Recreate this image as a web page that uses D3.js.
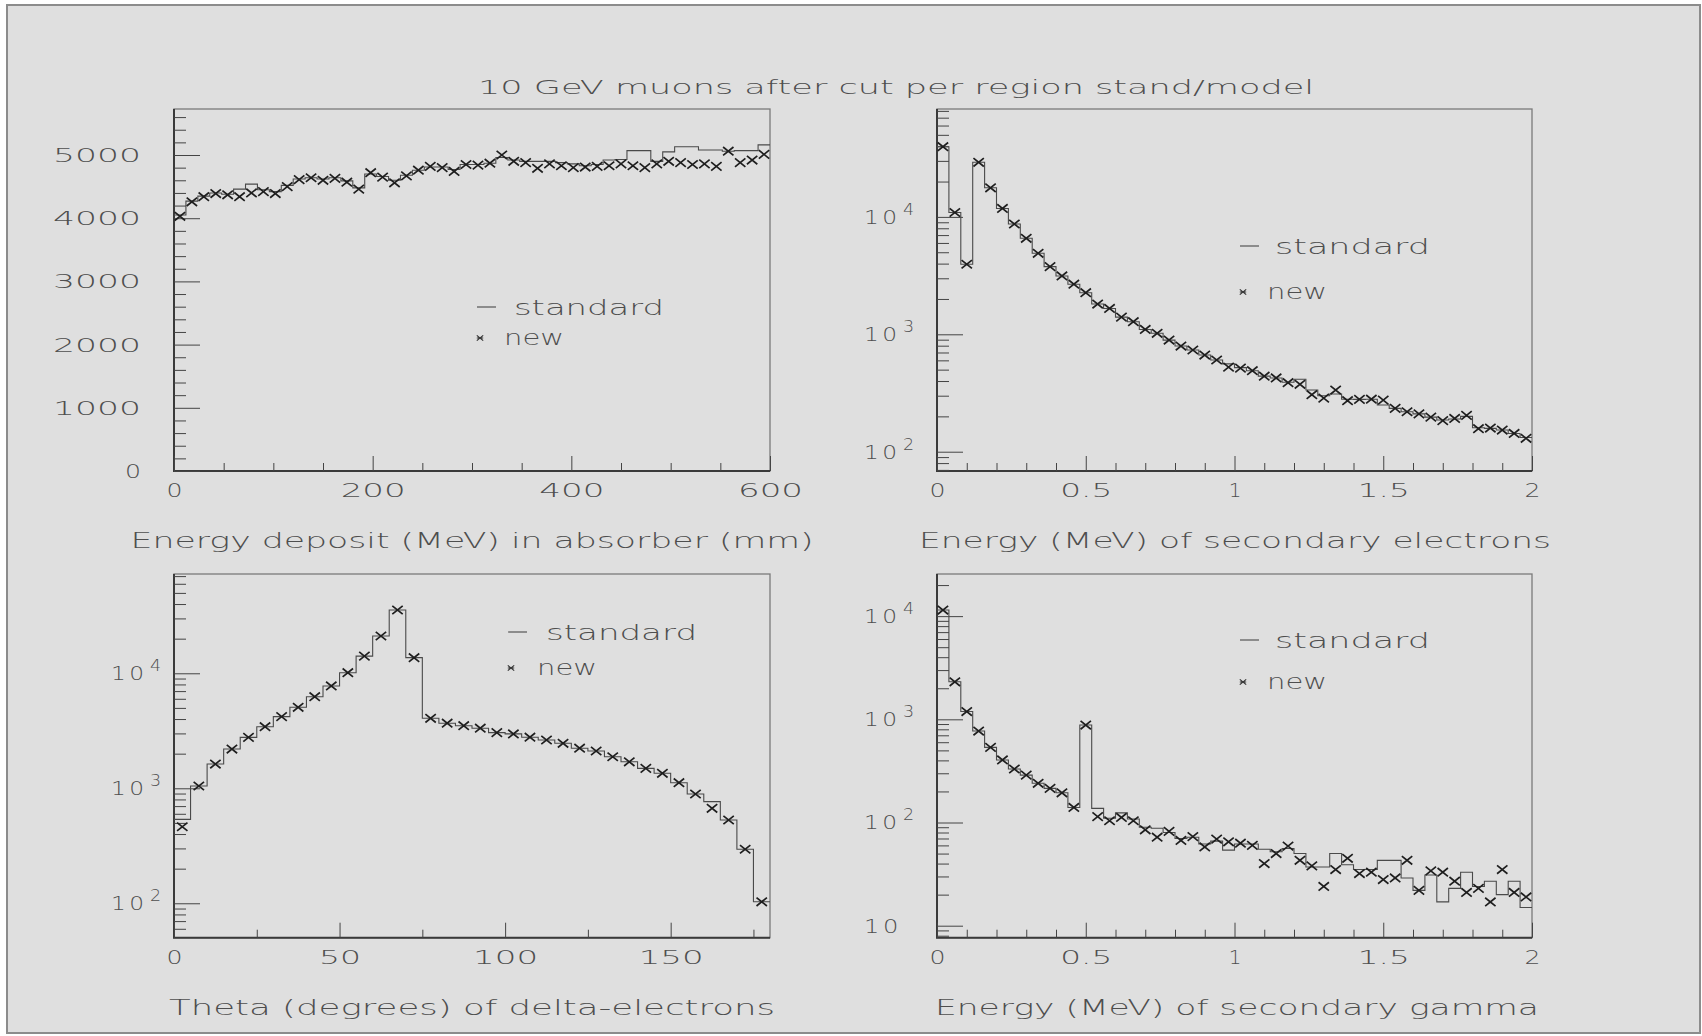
<!DOCTYPE html>
<html>
<head>
<meta charset="utf-8">
<script src="https://cdn.jsdelivr.net/npm/d3@7"></script>
<style>
  html, body { margin: 0; padding: 0; background: #ffffff; }
  svg text { font-family: "DejaVu Sans", "Liberation Sans", sans-serif; font-weight: 200; fill: #4e4e4e; }
</style>
</head>
<body>
<svg id="chart" width="1702" height="1036"></svg>
<script>
// ---- values ----
const pageTitle = "10 GeV muons after cut per region stand/model";
const seriesNames = ["standard", "new"];

// energy deposit, 50 bins over 0..600 mm
const depositStandard = [4050, 4270, 4350, 4400, 4380, 4460, 4540, 4450, 4420, 4520,
  4620, 4640, 4620, 4640, 4590, 4480, 4700, 4660, 4600, 4680,
  4760, 4810, 4810, 4770, 4850, 4850, 4870, 4960, 4920, 4900,
  4900, 4900, 4880, 4860, 4830, 4850, 4920, 4930, 5070, 5070,
  4900, 5050, 5130, 5130, 5080, 5080, 5060, 5070, 5070, 5160];
const depositNew = [4030, 4260, 4340, 4390, 4370, 4340, 4400, 4420, 4390, 4500,
  4610, 4640, 4600, 4630, 4570, 4460, 4720, 4650, 4560, 4670,
  4760, 4820, 4800, 4740, 4850, 4840, 4870, 5000, 4900, 4880,
  4790, 4860, 4830, 4800, 4810, 4820, 4830, 4860, 4830, 4800,
  4860, 4900, 4880, 4850, 4860, 4820, 5060, 4880, 4920, 5010];
const depositTicks = [0, 200, 400, 600];
const depositYTicks = [0, 1000, 2000, 3000, 4000, 5000];

// secondary electrons, 50 bins over 0..2 MeV
const electronStandard = [39600, 10900, 3950, 29200, 17700, 11800, 8700, 6570, 4900, 3770,
  3140, 2670, 2260, 1810, 1660, 1400, 1280, 1100, 1020, 893,
  794, 735, 666, 604, 560, 520, 490, 440, 425, 390,
  414, 335, 300, 310, 280, 279, 280, 250, 234, 219,
  210, 197, 186, 190, 200, 160, 158, 153, 143, 132];
const electronNew = [39600, 10900, 3950, 29200, 17700, 11800, 8700, 6570, 4900, 3770,
  3140, 2670, 2260, 1810, 1660, 1400, 1280, 1100, 1020, 893,
  794, 735, 666, 604, 525, 515, 490, 440, 425, 387,
  375, 306, 286, 335, 272, 279, 280, 275, 234, 219,
  210, 197, 184, 192, 204, 157, 159, 153, 143, 130];
const energyTicks = [0, 0.5, 1, 1.5, 2];

// theta of delta electrons, 36 bins over 0..180 degrees
const thetaStandard = [537, 1047, 1625, 2195, 2770, 3430, 4200, 5060, 6260, 7760,
  10120, 14100, 21100, 35500, 13670, 4060, 3680, 3500, 3330, 3050,
  2970, 2780, 2630, 2460, 2230, 2110, 1880, 1700, 1490, 1350,
  1118, 892, 765, 530, 295, 103];
const thetaNew = [463, 1047, 1625, 2195, 2770, 3430, 4200, 5060, 6260, 7760,
  10120, 14100, 21100, 35500, 13670, 4060, 3680, 3500, 3330, 3050,
  2970, 2780, 2630, 2460, 2230, 2110, 1880, 1700, 1490, 1350,
  1118, 892, 670, 530, 295, 103];
const thetaTicks = [0, 50, 100, 150];

// secondary gamma, 50 bins over 0..2 MeV
const gammaStandard = [11460, 2310, 1190, 770, 535, 404, 330, 288, 240, 214,
  194, 140, 880, 137, 110, 124, 108, 90, 88, 80,
  70, 72, 62, 66, 54, 62, 62, 55, 52, 56,
  50, 37, 37, 50, 39, 35, 35, 43, 43, 29,
  22, 31, 17, 23, 33, 24, 27, 20, 27, 15];
const gammaNew = [11460, 2310, 1190, 770, 535, 404, 330, 288, 240, 214,
  194, 140, 880, 114, 104, 112, 104, 85, 72, 82,
  67, 73, 58, 69, 65, 63, 60, 40, 50, 59,
  43, 38, 24, 35, 45, 32, 33, 28, 29, 43,
  22, 34, 33, 27, 21, 23, 17, 35, 21, 19];

// ---- layout ----
const svg = d3.select("#chart");
svg.append("rect")
  .attr("x", 7).attr("y", 5).attr("width", 1693).attr("height", 1028)
  .attr("fill", "#dfdfdf").attr("stroke", "#8c8c8c").attr("stroke-width", 2);

// stretch text to the measured width (the original font is a wide stroke font)
function fit(sel, len) {
  return sel.attr("textLength", len).attr("lengthAdjust", "spacingAndGlyphs");
}

fit(svg.append("text")
  .attr("x", 896).attr("y", 94)
  .attr("text-anchor", "middle")
  .style("font-size", "20px")
  .text(pageTitle), 836);

const panels = [
  { box: [174, 770, 109, 471], xDomain: [0, 600], yDomain: [0, 5728], log: false,
    std: depositStandard, nw: depositNew, xTicks: depositTicks, xMinorStep: 50,
    yTicks: depositYTicks, yMinorStep: 200, labelPad: 33,
    title: "Energy deposit (MeV) in absorber (mm)", titleX: 472, titleY: 548, titleLen: 683,
    leg: { x: 477, y: 307, tx: 514, stdLen: 150, ny: 338, nx: 504 } },
  { box: [937, 1532, 109, 471], xDomain: [0, 2], yDomain: [68.5, 83000], log: true,
    std: electronStandard, nw: electronNew, xTicks: energyTicks, xMinorStep: 0.1,
    labelPad: 23,
    title: "Energy (MeV) of secondary electrons", titleX: 1235, titleY: 548, titleLen: 632,
    leg: { x: 1240, y: 246, tx: 1275, stdLen: 155, ny: 292, nx: 1267 } },
  { box: [174, 770, 574, 937.7], xDomain: [0, 180], yDomain: [50.2, 73000], log: true,
    std: thetaStandard, nw: thetaNew, xTicks: thetaTicks, xMinorStep: 25,
    labelPad: 13,
    title: "Theta (degrees) of delta-electrons", titleX: 472, titleY: 1015, titleLen: 606,
    leg: { x: 508, y: 632, tx: 546, stdLen: 151, ny: 668, nx: 537 } },
  { box: [937, 1532, 574, 937.7], xDomain: [0, 2], yDomain: [7.65, 25600], log: true,
    std: gammaStandard, nw: gammaNew, xTicks: energyTicks, xMinorStep: 0.1,
    labelPad: 23,
    title: "Energy (MeV) of secondary gamma", titleX: 1237, titleY: 1015, titleLen: 604,
    leg: { x: 1240, y: 640, tx: 1275, stdLen: 155, ny: 682, nx: 1267 } }
];

const crossPath = (w, h) => `M${-w},${-h}L${w},${h}M${-w},${h}L${w},${-h}`;
const starPath = (w, h) => `M${-w},${-h}L${w},${h}M${-w},${h}L${w},${-h}M${-w},0L${w},0`;

function labelWidth(s) {
  const s2 = String(s);
  if (s2 === "1") return 0;
  if (s2.length === 1) return 16;
  const dots = (s2.match(/\./g) || []).length;
  return (s2.length - dots) * 23 + dots * 10 - 4;
}

panels.forEach(p => {
  const [x0, x1, y0, y1] = p.box;
  const x = d3.scaleLinear().domain(p.xDomain).range([x0, x1]);
  const y = (p.log ? d3.scaleLog() : d3.scaleLinear()).domain(p.yDomain).range([y1, y0]);
  const g = svg.append("g");

  // frame
  g.append("rect").attr("x", x0).attr("y", y0).attr("width", x1 - x0).attr("height", y1 - y0)
    .attr("fill", "none").attr("stroke", "#7a7a7a").attr("stroke-width", 1.3);
  g.append("path").attr("d", `M${x0},${y0}V${y1}H${x1}`)
    .attr("fill", "none").attr("stroke", "#3a3a3a").attr("stroke-width", 2);

  // x axis
  const xMinor = d3.range(p.xDomain[0], p.xDomain[1] + 1e-9, p.xMinorStep)
    .filter(v => !p.xTicks.some(t => Math.abs(t - v) < 1e-9));
  g.append("g").attr("transform", `translate(0,${y1})`).attr("color", "#444")
    .call(d3.axisBottom(x).tickValues(xMinor).tickFormat("").tickSizeInner(-8).tickSizeOuter(0))
    .call(a => a.select(".domain").remove());
  const xa = g.append("g").attr("transform", `translate(0,${y1})`).attr("color", "#444")
    .call(d3.axisBottom(x).tickValues(p.xTicks).tickFormat(d => String(d))
      .tickSizeInner(-15).tickSizeOuter(0).tickPadding(12))
    .call(a => a.select(".domain").remove());
  xa.selectAll("text").style("font-size", "20px")
    .each(function (d) {
      const w = labelWidth(d);
      if (w) fit(d3.select(this), w);
    });

  // y axis
  let yMajor, yMinor;
  if (p.log) {
    const all = y.ticks();
    yMajor = all.filter(v => Math.abs(Math.log10(v) - Math.round(Math.log10(v))) < 1e-9);
    yMinor = all.filter(v => !yMajor.includes(v));
  } else {
    yMajor = p.yTicks;
    yMinor = d3.range(0, p.yDomain[1], p.yMinorStep).filter(v => !yMajor.includes(v));
  }
  g.append("g").attr("transform", `translate(${x0},0)`).attr("color", "#444")
    .call(d3.axisLeft(y).tickValues(yMinor).tickFormat("").tickSizeInner(-12).tickSizeOuter(0))
    .call(a => a.select(".domain").remove());
  const ya = g.append("g").attr("transform", `translate(${x0},0)`).attr("color", "#444")
    .call(d3.axisLeft(y).tickValues(yMajor).tickFormat(d => String(d))
      .tickSizeInner(-26).tickSizeOuter(0).tickPadding(p.labelPad))
    .call(a => a.select(".domain").remove());
  ya.selectAll("text").style("font-size", "20px").each(function (d) {
    const t = d3.select(this);
    if (p.log) {
      const e = Math.round(Math.log10(d));
      t.text(null);
      t.append("tspan").style("letter-spacing", "3px").text("10");
      if (e !== 1) t.append("tspan").attr("dy", -9).attr("dx", 2).style("font-size", "15px").text(e);
      if (e !== 1) fit(t, 50); else { fit(t, 38); t.attr("dx", -12); }
    } else {
      const w = labelWidth(d);
      if (w) fit(t, w);
    }
  });

  // standard histogram as a step outline
  const n = p.std.length;
  const bw = (p.xDomain[1] - p.xDomain[0]) / n;
  const stepPts = p.std.map((v, i) => [p.xDomain[0] + i * bw, v]);
  stepPts.push([p.xDomain[1], p.std[n - 1]]);
  g.append("path")
    .attr("d", d3.line().x(d => x(d[0])).y(d => y(d[1])).curve(d3.curveStepAfter)(stepPts))
    .attr("fill", "none").attr("stroke", "#4a4a4a").attr("stroke-width", 1.1);

  // new: cross markers at bin centres
  g.append("g").selectAll("path")
    .data(p.nw)
    .join("path")
    .attr("transform", (v, i) => `translate(${x(p.xDomain[0] + (i + 0.5) * bw)},${y(v)})`)
    .attr("d", crossPath(5.2, 4.2))
    .attr("fill", "none").attr("stroke", "#1e1e1e").attr("stroke-width", 1.7);

  // axis title
  fit(svg.append("text")
    .attr("x", p.titleX).attr("y", p.titleY)
    .attr("text-anchor", "middle")
    .style("font-size", "21px")
    .text(p.title), p.titleLen);

  // legend
  const L = p.leg;
  g.append("line").attr("x1", L.x).attr("x2", L.x + 19).attr("y1", L.y).attr("y2", L.y)
    .attr("stroke", "#555").attr("stroke-width", 1.2);
  fit(g.append("text").attr("x", L.tx).attr("y", L.y + 7.5)
    .style("font-size", "21px").text(seriesNames[0]), L.stdLen);
  g.append("path").attr("transform", `translate(${L.x + 3},${L.ny})`)
    .attr("d", starPath(3.2, 2.6)).attr("fill", "none").attr("stroke", "#333").attr("stroke-width", 1.2);
  fit(g.append("text").attr("x", L.nx).attr("y", L.ny + 7)
    .style("font-size", "21px").text(seriesNames[1]), 60);
});
</script>
</body>
</html>
